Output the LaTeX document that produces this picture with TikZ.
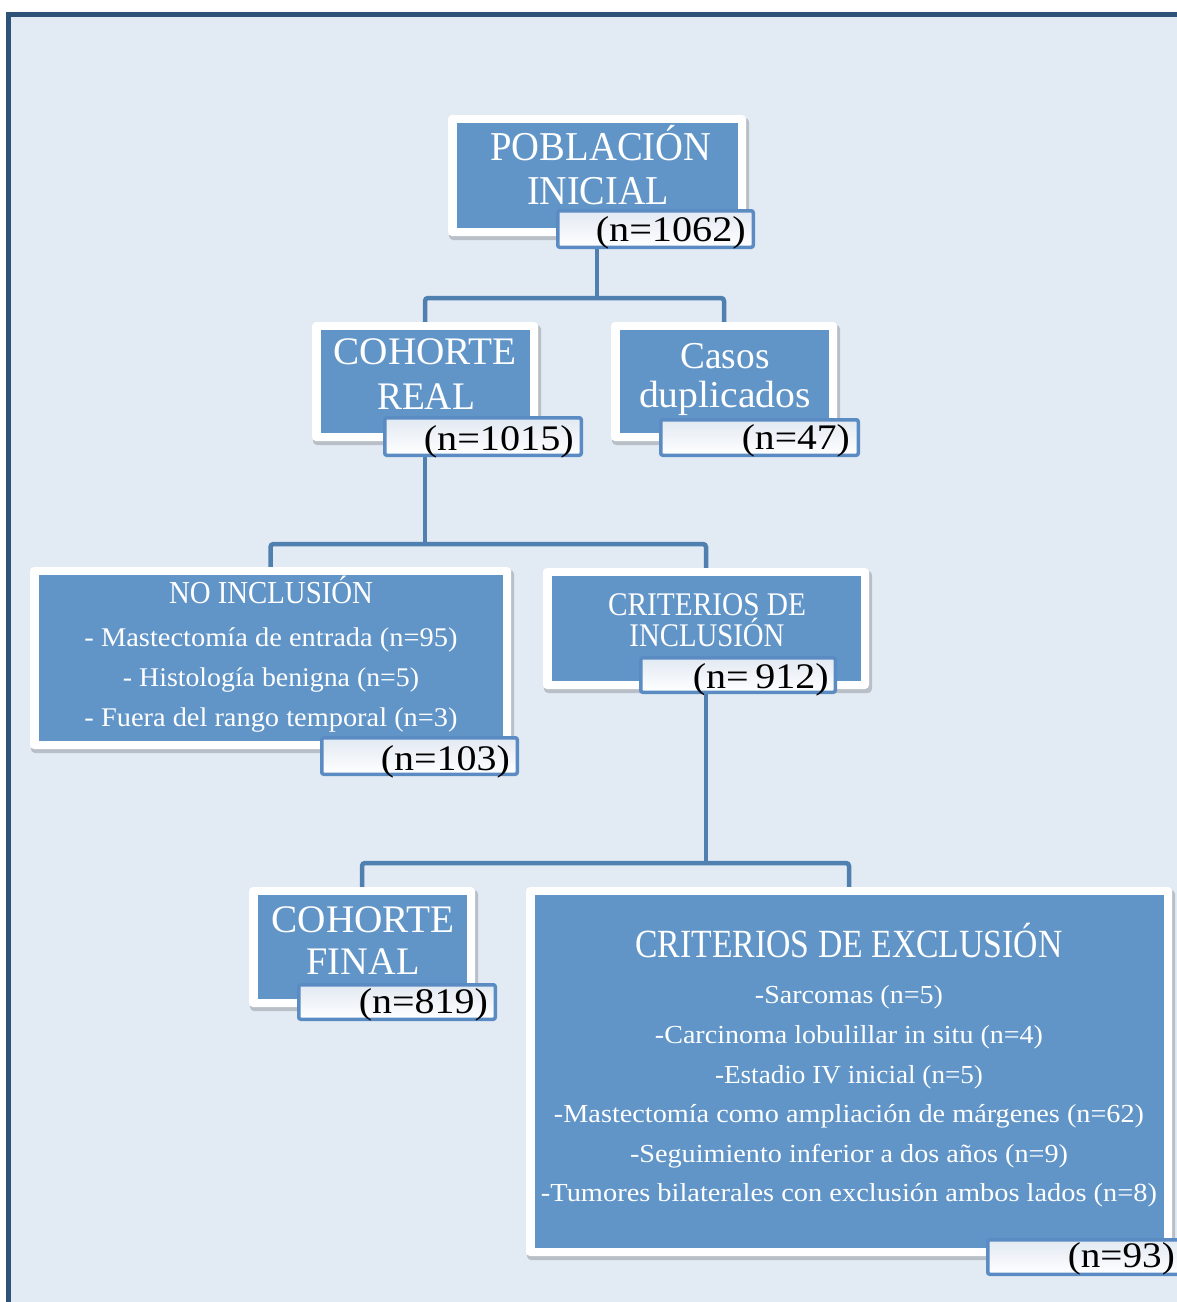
\documentclass[tikz,border=0pt]{standalone}
\usepackage{fontspec}
\setmainfont{Liberation Serif}
\usepackage{graphicx}
\definecolor{bgc}{RGB}{226,234,244}
\definecolor{framec}{RGB}{47,82,120}
\definecolor{boxc}{RGB}{97,149,200}
\definecolor{connc}{RGB}{79,128,176}
\definecolor{cntc}{RGB}{91,139,195}
\definecolor{cnttop}{RGB}{226,233,242}
\newcommand\fw[2]{\resizebox{#1pt}{\height}{#2}}
\newcommand\fs[1]{\fontsize{#1}{#1}\selectfont}
% name, x1, y1, x2, y2
\newcommand\bluebox[5]{%
  \fill[black, opacity=0.18, rounded corners=4pt] (#2+1,#3+3) rectangle (#4+3,#5+4);
  \node[wframe, minimum width={(#4-#2)*1pt}, minimum height={(#5-#3)*1pt}] (#1) at ({(#2+#4)/2},{(#3+#5)/2}) {};
  \fill[boxc] (#2+8.5,#3+8) rectangle (#4-8,#5-8);}
\newcommand\cntbox[5]{%
  \node[cnt, minimum width={(#4-#2-3.5)*1pt}, minimum height={(#5-#3-3.5)*1pt}] (#1) at ({(#2+#4)/2},{(#3+#5)/2}) {};}
\begin{document}
\begin{tikzpicture}[x=1pt,y=-1pt,
  wframe/.style={fill=white, rounded corners=4pt, inner sep=0pt, draw=none},
  cnt/.style={draw=cntc, line width=3.5pt, rounded corners=2pt, inner sep=0pt,
    top color=cnttop, middle color=white, bottom color=white},
  conn/.style={draw=connc, line width=4.5pt, rounded corners=3pt},
  ttl/.style={text=white, inner sep=0pt, anchor=base},
  num/.style={text=black, inner sep=0pt, anchor=base east, font=\fs{36}}]
\useasboundingbox (0,0) rectangle (1177,1302);
\draw[framec, line width=5pt, fill=bgc] (8.5,14.5) rectangle (1210,1330);

% boxes
\bluebox{pob}{448}{115}{746}{236}
\cntbox{c1}{556}{209}{755}{249}
\bluebox{real}{312}{322}{538}{441}
\cntbox{c2}{383}{416}{583}{457}
\bluebox{dup}{611}{322}{837}{441}
\cntbox{c3}{659}{418}{860}{457}
\bluebox{noinc}{30}{567}{511}{749}
\cntbox{c4}{320}{736}{519}{776}
\bluebox{inc}{543}{568}{869}{689}
\cntbox{c5}{639}{656}{837}{694}
\bluebox{fin}{249}{887}{475}{1007}
\cntbox{c6}{297}{983}{497}{1021}
\bluebox{exc}{526}{887}{1172}{1256}
\cntbox{c7}{986}{1238}{1188}{1276}

% texts
\node[ttl, font=\fs{41}] (t1a) at (601,160) {\fw{221}{POBLACIÓN}};
\node[ttl, font=\fs{41}] (t1b) at (598,204) {\fw{142}{INICIAL}};
\node[num] (n1) at (746,241) {\fw{150}{(n=1062)}};

\node[ttl, font=\fs{39}] (t2a) at (425,364) {\fw{183}{COHORTE}};
\node[ttl, font=\fs{39}] (t2b) at (426,409) {\fw{98}{REAL}};
\node[num] (n2) at (574,450) {\fw{150}{(n=1015)}};

\node[ttl, font=\fs{38}] (t3a) at (725,368) {\fw{89}{Casos}};
\node[ttl, font=\fs{38}] (t3b) at (725,407) {\fw{172}{duplicados}};
\node[num] (n3) at (850,449) {\fw{108}{(n=47)}};

\node[ttl, font=\fs{32}] (t4a) at (271,603) {\fw{204}{NO INCLUSIÓN}};
\node[ttl, font=\fs{27}] (t4b) at (271,646) {\fw{373}{- Mastectomía de entrada (n=95)}};
\node[ttl, font=\fs{27}] (t4c) at (271,686) {\fw{296}{- Histología benigna (n=5)}};
\node[ttl, font=\fs{27}] (t4d) at (271,726) {\fw{373}{- Fuera del rango temporal (n=3)}};
\node[num] (n4) at (510,770) {\fw{129}{(n=103)}};

\node[ttl, font=\fs{33}] (t5a) at (707,615) {\fw{198}{CRITERIOS DE}};
\node[ttl, font=\fs{33}] (t5b) at (707,646) {\fw{155}{INCLUSIÓN}};
\node[num] (n5) at (829,688) {\fw{136}{(n=\,912)}};

\node[ttl, font=\fs{39}] (t6a) at (363,932) {\fw{183}{COHORTE}};
\node[ttl, font=\fs{39}] (t6b) at (363,974) {\fw{113}{FINAL}};
\node[num] (n6) at (488,1013) {\fw{129}{(n=819)}};

\node[ttl, font=\fs{40}] (t7a) at (849,957) {\fw{427}{CRITERIOS DE EXCLUSIÓN}};
\node[ttl, font=\fs{26}] (t7b) at (849,1003) {\fw{188}{-Sarcomas (n=5)}};
\node[ttl, font=\fs{26}] (t7c) at (849,1043) {\fw{388}{-Carcinoma lobulillar in situ (n=4)}};
\node[ttl, font=\fs{26}] (t7d) at (849,1083) {\fw{268}{-Estadio IV inicial (n=5)}};
\node[ttl, font=\fs{26}] (t7e) at (849,1122) {\fw{590}{-Mastectomía como ampliación de márgenes (n=62)}};
\node[ttl, font=\fs{26}] (t7f) at (849,1162) {\fw{438}{-Seguimiento inferior a dos años (n=9)}};
\node[ttl, font=\fs{26}] (t7g) at (849,1201) {\fw{616}{-Tumores bilaterales con exclusión ambos lados (n=8)}};
\node[num] (n7) at (1175,1267) {\fw{107}{(n=93)}};

% connectors
\coordinate (j1) at (597,298);
\coordinate (j2) at (425,544);
\coordinate (j3) at (706,863);
\draw[conn] (pob |- c1.south) -- (j1);
\draw[conn] (real.north) |- (j1) -| (dup.north);
\draw[conn] (real |- c2.south) -- (j2);
\draw[conn] (noinc.north) |- (j2) -| (inc.north);
\draw[conn] (inc |- c5.south) -- (j3);
\draw[conn] (fin.north) |- (j3) -| (exc.north);
\end{tikzpicture}
\end{document}
